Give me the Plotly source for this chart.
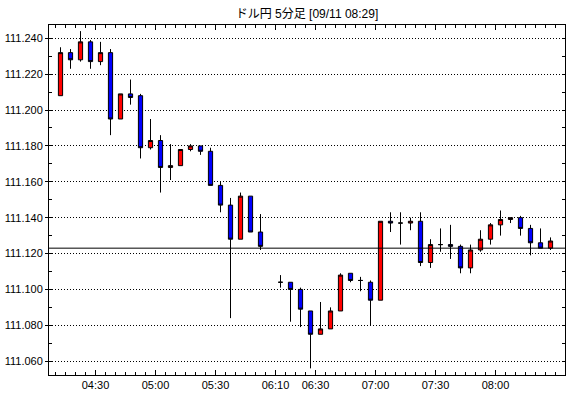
import plotly.graph_objects as go

# ---------------- data ----------------
times = ["04:10", "04:15", "04:20", "04:25", "04:30", "04:35", "04:40", "04:45", "04:50", "04:55",
         "05:00", "05:05", "05:10", "05:15", "05:20", "05:25", "05:30", "05:35", "05:40", "05:45",
         "05:50", "05:55", "06:10", "06:15", "06:20", "06:25", "06:30", "06:35", "06:40", "06:45",
         "06:50", "06:55", "07:00", "07:05", "07:10", "07:15", "07:20", "07:25", "07:30", "07:35",
         "07:40", "07:45", "07:50", "07:55", "08:00", "08:05", "08:10", "08:15", "08:20", "08:25"]

opens = [111.208, 111.232, 111.228, 111.238, 111.227, 111.232, 111.195, 111.209, 111.208, 111.179,
         111.183, 111.168, 111.169, 111.178, 111.180, 111.177, 111.158, 111.147, 111.128, 111.152,
         111.132, None, 111.104, 111.104, 111.100, 111.088, 111.075, 111.078, 111.088, 111.109,
         111.105, 111.104, 111.094, 111.138, 111.137, 111.137, 111.138, 111.115, 111.125, 111.125,
         111.124, 111.112, 111.122, 111.128, 111.136, 111.139, 111.140, 111.134, 111.126, 111.123]
highs = [111.235, 111.234, 111.244, 111.239, 111.238, 111.234, 111.209, 111.217, 111.209, 111.195,
         111.186, 111.181, 111.178, 111.181, 111.180, 111.179, 111.160, 111.151, 111.154, 111.152,
         111.142, None, 111.108, 111.104, 111.101, 111.088, 111.093, 111.090, 111.109, 111.109,
         111.107, 111.105, 111.138, 111.143, 111.143, 111.140, 111.143, 111.128, 111.134, 111.136,
         111.125, 111.125, 111.133, 111.137, 111.144, 111.140, 111.141, 111.136, 111.134, 111.129]
lows = [111.208, 111.223, 111.227, 111.223, 111.225, 111.186, 111.195, 111.203, 111.173, 111.178,
        111.154, 111.161, 111.169, 111.177, 111.175, 111.158, 111.143, 111.084, 111.128, 111.132,
        111.122, None, 111.101, 111.082, 111.079, 111.056, 111.075, 111.078, 111.088, 111.104,
        111.099, 111.080, 111.094, 111.132, 111.125, 111.133, 111.113, 111.112, 111.121, 111.117,
        111.109, 111.109, 111.121, 111.125, 111.130, 111.137, 111.130, 111.119, 111.123, 111.122]
closes = [111.232, 111.228, 111.238, 111.227, 111.232, 111.195, 111.209, 111.207, 111.179, 111.183,
          111.168, 111.169, 111.178, 111.180, 111.177, 111.158, 111.147, 111.128, 111.152, 111.132,
          111.124, None, 111.104, 111.100, 111.089, 111.075, 111.078, 111.088, 111.108, 111.105,
          111.105, 111.094, 111.138, 111.137, 111.137, 111.138, 111.115, 111.125, 111.125, 111.124,
          111.112, 111.122, 111.128, 111.136, 111.139, 111.140, 111.134, 111.126, 111.123, 111.127]

tick_labels = ["04:30", "05:00", "05:30", "06:10", "06:30", "07:00", "07:30", "08:00"]
ref_price = 111.123
title_text = "ドル円 5分足 [09/11 08:29]"

# ---------------- figure ----------------
idx = [i for i in range(len(times)) if opens[i] is not None]
xs = idx
o = [opens[i] for i in idx]
h = [highs[i] for i in idx]
l = [lows[i] for i in idx]
c = [closes[i] for i in idx]

FONT = "Liberation Sans, Noto Sans CJK JP, sans-serif"

fig = go.Figure()
fig.add_trace(go.Candlestick(
    x=xs, open=o, high=h, low=l, close=c,
    increasing=dict(fillcolor="#ff0000", line=dict(color="#000000", width=1)),
    decreasing=dict(fillcolor="#0000ff", line=dict(color="#000000", width=1)),
    whiskerwidth=0, showlegend=False, hoverinfo="skip",
))
fig.add_trace(go.Scatter(x=[], y=[], yaxis="y2", showlegend=False))

tickvals = [times.index(t) - 0.5 for t in tick_labels]
ymin, ymax = 111.0523, 111.2474

fig.update_layout(
    width=570, height=398,
    margin=dict(l=49, r=5, t=25, b=23),
    paper_bgcolor="white", plot_bgcolor="white",
    font=dict(family=FONT, size=11, color="black"),
    boxgap=0.4,
    title=dict(text=title_text, x=0.5, xref="paper", xanchor="center",
               y=1 - 14 / 398, yanchor="middle",
               font=dict(family=FONT, size=12, color="black")),
    xaxis=dict(
        range=[-1.15, 50.45], rangeslider=dict(visible=False),
        tickmode="array", tickvals=tickvals, ticktext=tick_labels,
        ticks="inside", ticklen=5, tickwidth=1, tickcolor="black",
        showline=True, linecolor="black", linewidth=1, mirror="ticks",
        showgrid=False, zeroline=False,
        minor=dict(tickmode="linear", tick0=-0.5, dtick=1, ticks="inside",
                   ticklen=3, tickcolor="black", tickwidth=1, showgrid=False),
        tickfont=dict(size=11),
    ),
    yaxis=dict(
        range=[ymin, ymax], tickmode="linear", tick0=111.06, dtick=0.02,
        tickformat=".3f", ticks="outside", ticklen=3, tickcolor="black",
        showline=True, linecolor="black", linewidth=1, mirror=False,
        showgrid=True, gridcolor="black", gridwidth=1, griddash="1px,2px",
        zeroline=False,
        minor=dict(tickmode="linear", tick0=111.05, dtick=0.01, ticks="inside",
                   ticklen=3, tickcolor="black", showgrid=False),
        tickfont=dict(size=11),
    ),
    yaxis2=dict(
        range=[ymin, ymax], overlaying="y", side="right",
        tickmode="linear", tick0=111.05, dtick=0.01, ticks="inside", ticklen=3,
        tickcolor="black", showticklabels=False, showline=True,
        linecolor="black", linewidth=1, showgrid=False, zeroline=False,
    ),
    shapes=[dict(type="line", xref="paper", x0=0, x1=1, yref="y",
                 y0=ref_price, y1=ref_price,
                 line=dict(color="black", width=1), layer="above")],
)

fig.write_html("out.html")
